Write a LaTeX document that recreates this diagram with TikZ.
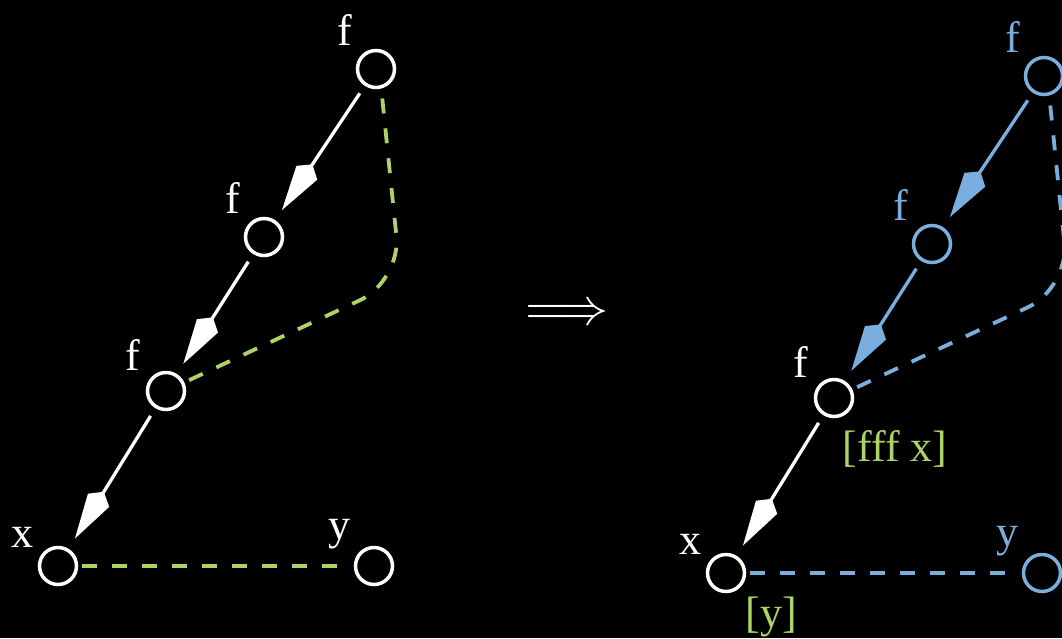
\documentclass[tikz,border=0pt]{standalone}
\usepackage{graphicx}
\usepackage{fontspec}
\setmainfont{Liberation Serif}
\usetikzlibrary{arrows.meta}
\definecolor{grn}{RGB}{172,210,104}
\definecolor{blu}{RGB}{122,174,222}
\begin{document}
\begin{tikzpicture}[x=1pt,y=-1pt,
  vtx/.style={circle,draw=#1,line width=3.5pt,minimum size=37pt,inner sep=0pt},
  vtx/.default=white,
  lbl/.style={text=#1,font=\fontsize{44}{50}\selectfont,anchor=base,inner sep=0pt},
  lbl/.default=white,
  edg/.style={draw=#1,line width=3.3pt,shorten <=9pt,shorten >=12pt,
    -{Kite[length=55pt,width=25pt,inset=10pt]}},
  dsh/.style={draw=#1,line width=3.8pt,dash pattern=on 15pt off 15pt}
]
\fill[black] (0,0) rectangle (1062,638);
\clip (0,0) rectangle (1062,638);
% left graph
\node[vtx] (a1) at (376,69) {};
\node[vtx] (a2) at (264,237) {};
\node[vtx] (a3) at (166,391) {};
\node[vtx] (ax) at (58,566) {};
\node[vtx] (ay) at (374,566) {};
\node[lbl] (la1) at ([shift={(-31,-24)}]a1.center) {f};
\node[lbl] (la2) at ([shift={(-31,-24)}]a2.center) {f};
\node[lbl] (la3) at ([shift={(-33,-21)}]a3.center) {f};
\node[lbl] (lax) at ([shift={(-36,-19)}]ax.center) {x};
\node[lbl] (lay) at ([shift={(-35,-27)}]ay.center) {y};
\draw[edg=white] (a1) -- (a2);
\draw[edg=white] (a2) -- (a3);
\draw[edg=white] (a3) -- (ax);
\coordinate (ac) at (401,281);
\draw[dsh=grn,rounded corners=45pt,shorten <=10pt] (a1.-75) -- (ac) -- (a3);
\draw[dsh=grn,shorten <=4pt,shorten >=2pt] (ax) -- (ay);
% implication
\node[text=white,inner sep=0pt] (imp) at (567,315) {\scalebox{5.2}{$\Longrightarrow$}};
% right graph
\node[vtx=blu] (b1) at (1044,76) {};
\node[vtx=blu] (b2) at (932,244) {};
\node[vtx] (b3) at (834,398) {};
\node[vtx] (bx) at (726,573) {};
\node[vtx=blu] (by) at (1042,573) {};
\node[lbl=blu] (lb1) at ([shift={(-31,-24)}]b1.center) {f};
\node[lbl=blu] (lb2) at ([shift={(-31,-24)}]b2.center) {f};
\node[lbl] (lb3) at ([shift={(-33,-21)}]b3.center) {f};
\node[lbl] (lbx) at ([shift={(-36,-19)}]bx.center) {x};
\node[lbl=blu] (lby) at ([shift={(-35,-27)}]by.center) {y};
\node[lbl=grn] (lv3) at ([shift={(61,63)}]b3.center) {[fff x]};
\node[lbl=grn] (lvx) at ([shift={(45,54)}]bx.center) {[y]};
\draw[edg=blu] (b1) -- (b2);
\draw[edg=blu] (b2) -- (b3);
\draw[edg=white] (b3) -- (bx);
\coordinate (bc) at (1069,288);
\draw[dsh=blu,rounded corners=45pt,shorten <=10pt] (b1.-75) -- (bc) -- (b3);
\draw[dsh=blu,shorten <=4pt,shorten >=2pt] (bx) -- (by);
\end{tikzpicture}
\end{document}
